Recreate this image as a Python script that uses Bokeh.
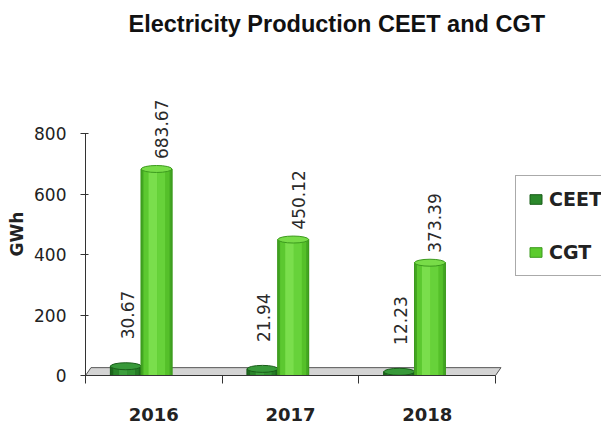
import math
from bokeh.plotting import figure
from bokeh.models import FixedTicker, Legend, LegendItem, ColumnDataSource, Range1d, Title
from bokeh.embed import file_html
from bokeh.resources import INLINE
from bokeh.core.properties import value

# ---------------- data ----------------
years = ["2016", "2017", "2018"]
ceet = [30.67, 21.94, 12.23]
cgt = [683.67, 450.12, 373.39]
y_ticks = [0, 200, 400, 600, 800]
series_names = ["CEET", "CGT"]
title_text = "Electricity Production CEET and CGT"
y_label = "GWh"

# ---------------- layout ----------------
W, H = 601, 423
LEFT, BOTTOM, TOP = 85, 47, 92
PX_Y = 242.5 / 800.0          # pixels per GWh
PX_X = 136.67                  # pixels per category
FRAME_H = H - BOTTOM - TOP
Y_END = FRAME_H / PX_Y
X_END = (W - LEFT) / PX_X
n = len(years)

p = figure(width=W, height=H, output_backend="svg", toolbar_location=None,
           x_range=Range1d(0, X_END), y_range=Range1d(0, Y_END),
           min_border_left=LEFT, min_border_right=0, min_border_top=TOP,
           min_border_bottom=BOTTOM, title=None)
p.xgrid.visible = False
p.ygrid.visible = False
p.outline_line_color = None
p.background_fill_color = "white"
p.border_fill_color = "white"

# spacer panel between frame and title, then the title itself
p.add_layout(Title(text=" ", text_font_size="35px"), "above")
p.add_layout(Title(text=title_text, align="left", offset=128 - LEFT,
                   text_font="Liberation Sans", text_font_style="bold",
                   text_font_size="23.5px", text_color="#111111"), "above")

# 3D floor
depth_x, depth_y = 0.04, 26
p.patch(x=[0, n, n + depth_x, depth_x], y=[0, 0, depth_y, depth_y],
        fill_color="#d4d4d4", line_color="#555555", line_width=1)

BAR_W = 0.225
ELL_H = 7 / PX_Y


def cylinder(xs, vals, main, shades, top_fill, edge):
    src = ColumnDataSource(dict(x=xs, top=vals))
    p.ellipse(x="x", y=0, width=BAR_W, height=ELL_H, source=src,
              fill_color=main, line_color=edge, line_width=1)
    base = p.vbar(x="x", top="top", bottom=0, width=BAR_W, source=src,
                  fill_color=main, line_color=edge, line_width=1)
    start = -BAR_W / 2
    for frac, col in shades:
        w = BAR_W * frac
        sx = [x + start + w / 2 for x in xs]
        p.vbar(x=sx, top=vals, bottom=0, width=w, fill_color=col, line_color=None)
        start += w
    p.vbar(x="x", top="top", bottom=0, width=BAR_W, source=src,
           fill_color=None, line_color=edge, line_width=1)
    p.ellipse(x="x", y="top", width=BAR_W, height=ELL_H, source=src,
              fill_color=top_fill, line_color=edge, line_width=1)
    return base


ceet_x = [i + 0.295 for i in range(n)]
cgt_x = [i + 0.52 for i in range(n)]

r_ceet = cylinder(ceet_x, ceet, "#2b882b",
                  [(0.10, "#1c661c"), (0.18, "#2a842a"), (0.27, "#3d9f3d"),
                   (0.25, "#329332"), (0.12, "#267b26"), (0.08, "#1c661c")],
                  "#38993a", "#1a5e1a")
r_cgt = cylinder(cgt_x, cgt, "#5ccb2e",
                 [(0.08, "#43a622"), (0.16, "#5cc830"), (0.28, "#7ade4c"),
                  (0.26, "#67d23a"), (0.14, "#55c02a"), (0.08, "#43a622")],
                 "#78dc48", "#3c9a1e")

# value labels
CEET_PAD = 27 / PX_Y
CGT_PAD = 10 / PX_Y
p.text(x=[x + 0.01 for x in ceet_x], y=[v + CEET_PAD for v in ceet],
       text=[f"{v:.2f}" for v in ceet], angle=math.pi / 2,
       text_align="left", text_baseline="middle",
       text_font=value("DejaVu Sans"), text_font_size="17px", text_color="#2a2a2a")
p.text(x=[x + 0.035 for x in cgt_x], y=[v + CGT_PAD for v in cgt],
       text=[f"{v:.2f}" for v in cgt], angle=math.pi / 2,
       text_align="left", text_baseline="middle",
       text_font=value("DejaVu Sans"), text_font_size="17px", text_color="#2a2a2a")

# y axis
ya = p.yaxis[0]
ya.ticker = FixedTicker(ticks=y_ticks)
ya.bounds = (y_ticks[0], y_ticks[-1])
ya.major_tick_out = 5
ya.major_tick_in = 3
ya.minor_tick_line_color = None
ya.axis_line_color = "#333333"
ya.major_tick_line_color = "#333333"
ya.major_label_text_font = "DejaVu Sans"
ya.major_label_text_font_size = "17px"
ya.major_label_text_color = "#222222"
ya.major_label_standoff = 14
ya.axis_label = y_label
ya.axis_label_text_font = "DejaVu Sans"
ya.axis_label_text_font_style = "bold"
ya.axis_label_text_font_size = "17px"
ya.axis_label_text_color = "#222222"
ya.axis_label_standoff = 4

# x axis
xa = p.xaxis[0]
centers = [i + 0.5 for i in range(n)]
xa.ticker = FixedTicker(ticks=centers, minor_ticks=list(range(n + 1)))
xa.major_label_overrides = {c: y for c, y in zip(centers, years)}
xa.bounds = (0, n)
xa.major_tick_line_color = None
xa.major_tick_out = 0
xa.major_tick_in = 0
xa.minor_tick_out = 8
xa.minor_tick_in = 0
xa.minor_tick_line_color = "#333333"
xa.axis_line_color = "#333333"
xa.major_label_text_font = "DejaVu Sans"
xa.major_label_text_font_style = "bold"
xa.major_label_text_font_size = "18px"
xa.major_label_text_color = "#222222"
xa.major_label_standoff = 24

# legend
legend = Legend(items=[LegendItem(label=series_names[0], renderers=[r_ceet]),
                       LegendItem(label=series_names[1], renderers=[r_cgt])],
                location=(515 - LEFT, (H - BOTTOM) - 277), orientation="vertical",
                glyph_width=15, glyph_height=12, label_height=22, spacing=31,
                padding=12, label_standoff=6, margin=0,
                label_text_font="DejaVu Sans", label_text_font_style="bold",
                label_text_font_size="19px", label_text_color="#222222",
                border_line_color="#555555", border_line_width=1,
                background_fill_color="white", background_fill_alpha=1)
p.add_layout(legend)

open("out.html", "w").write(file_html(p, INLINE))
